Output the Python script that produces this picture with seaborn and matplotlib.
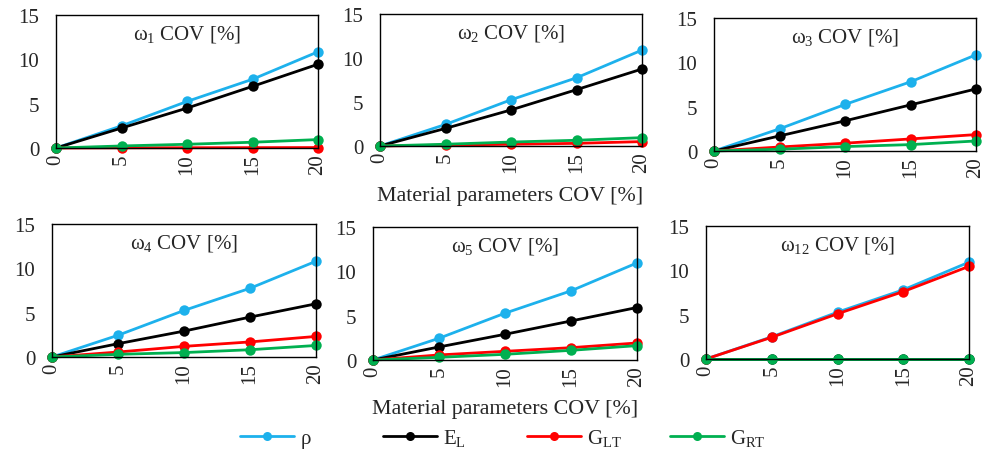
import numpy as np
import pandas as pd
import matplotlib
matplotlib.use("Agg")
import matplotlib.pyplot as plt
from matplotlib.lines import Line2D
import seaborn as sns

sns.set_style("white")
plt.rcParams['font.family'] = ['Liberation Serif', 'DejaVu Serif']
plt.rcParams['mathtext.fontset'] = 'custom'
plt.rcParams['mathtext.rm'] = 'Liberation Serif'
plt.rcParams['mathtext.it'] = 'Liberation Serif:italic'

# ---- data ----
cov = [0, 5, 10, 15, 20]
params = ["rho", "EL", "GLT", "GRT"]
param_labels = ["ρ", r"E$_\mathregular{L}$", r"G$_\mathregular{LT}$", r"G$_\mathregular{RT}$"]
colors = ["#1DB1EC", "#000000", "#FF0000", "#00B050"]
panel_titles = [r"ω$_\mathregular{1}$ COV [%]", r"ω$_\mathregular{2}$ COV [%]", r"ω$_\mathregular{3}$ COV [%]",
                r"ω$_\mathregular{4}$ COV [%]", r"ω$_\mathregular{5}$ COV [%]", r"ω$_\mathregular{12}$ COV [%]"]

w1_rho = [0, 2.5, 5.25, 7.75, 10.85]
w1_EL = [0, 2.25, 4.5, 6.95, 9.45]
w1_GLT = [0, 0.02, 0.03, 0.04, 0.05]
w1_GRT = [0, 0.23, 0.42, 0.65, 0.95]

w2_rho = [0, 2.45, 5.25, 7.75, 10.9]
w2_EL = [0, 2.0, 4.1, 6.4, 8.75]
w2_GLT = [0, 0.1, 0.2, 0.3, 0.5]
w2_GRT = [0, 0.2, 0.45, 0.65, 0.95]

w3_rho = [0, 2.5, 5.25, 7.8, 10.85]
w3_EL = [0, 1.7, 3.4, 5.2, 7.0]
w3_GLT = [0, 0.45, 0.88, 1.36, 1.85]
w3_GRT = [0, 0.2, 0.5, 0.72, 1.13]

w4_rho = [0, 2.45, 5.25, 7.75, 10.8]
w4_EL = [0, 1.5, 2.92, 4.5, 6.0]
w4_GLT = [0, 0.56, 1.2, 1.7, 2.32]
w4_GRT = [0, 0.3, 0.5, 0.82, 1.3]

w5_rho = [0, 2.45, 5.28, 7.8, 10.95]
w5_EL = [0, 1.47, 2.9, 4.4, 5.92]
w5_GLT = [0, 0.57, 0.98, 1.39, 1.92]
w5_GRT = [0, 0.3, 0.64, 1.09, 1.62]

w12_rho = [0, 2.5, 5.28, 7.8, 10.92]
w12_EL = [0, 0, 0, 0, 0]
w12_GLT = [0, 2.45, 5.1, 7.6, 10.45]
w12_GRT = [0, 0, 0, 0, 0]

panels = [
    [w1_rho, w1_EL, w1_GLT, w1_GRT],
    [w2_rho, w2_EL, w2_GLT, w2_GRT],
    [w3_rho, w3_EL, w3_GLT, w3_GRT],
    [w4_rho, w4_EL, w4_GLT, w4_GRT],
    [w5_rho, w5_EL, w5_GLT, w5_GRT],
    [w12_rho, w12_EL, w12_GLT, w12_GRT],
]

W, H = 986, 456
fig = plt.figure(figsize=(W / 100, H / 100), dpi=100)

# axes boxes in pixels: left, top, right, bottom
boxes = [
    (56, 16, 318, 149),
    (380, 15, 642, 147),
    (714, 19, 976, 152),
    (52, 225, 316, 358),
    (373, 228, 637, 361),
    (706, 227, 969, 360),
]

palette = dict(zip(params, colors))

for i, (box, series) in enumerate(zip(boxes, panels)):
    l, t, r, b = box
    ax = fig.add_axes([l / W, 1 - b / H, (r - l) / W, (b - t) / H])
    rows = []
    for p, vals in zip(params, series):
        for x, v in zip(cov, vals):
            rows.append({"cov": x, "val": v, "param": p})
    df = pd.DataFrame(rows)
    sns.lineplot(data=df, x="cov", y="val", hue="param", hue_order=params,
                 palette=palette, marker="o", markersize=7.5, markeredgewidth=0,
                 linewidth=2, legend=False, ax=ax)
    for ln in ax.lines:
        ln.set_clip_on(False)
    ax.set_xlim(0, 20)
    ax.set_ylim(0, 15)
    ax.set_xticks([0, 5, 10, 15, 20])
    ax.set_yticks([0, 5, 10, 15])
    ax.set_xlabel("")
    ax.set_ylabel("")
    ax.tick_params(axis="x", labelrotation=90, labelsize=15, length=0, pad=4)
    ax.tick_params(axis="y", labelsize=15, length=0, pad=12)
    for s in ax.spines.values():
        s.set_visible(True)
        s.set_color("black")
        s.set_linewidth(1.0)
    ax.text(0.5, 1 - 19 / (b - t), panel_titles[i], transform=ax.transAxes,
            ha="center", va="center", fontsize=15)

fig.text(510 / W, 1 - 197 / H, "Material parameters COV [%]", ha="center", va="center", fontsize=15.8)
fig.text(505 / W, 1 - 410 / H, "Material parameters COV [%]", ha="center", va="center", fontsize=15.8)

legend_x = [240, 383, 527, 670]
for c, lab, lx in zip(colors, param_labels, legend_x):
    h = Line2D([0], [0], color=c, lw=2, marker="o", markersize=6.5, markeredgewidth=0)
    fig.legend([h], [lab], loc="center left", bbox_to_anchor=(lx / W, 1 - 439 / H),
               frameon=False, fontsize=15, handlelength=2.6, handletextpad=0.3,
               borderpad=0, borderaxespad=0)

fig.savefig("out.png", dpi=100)
